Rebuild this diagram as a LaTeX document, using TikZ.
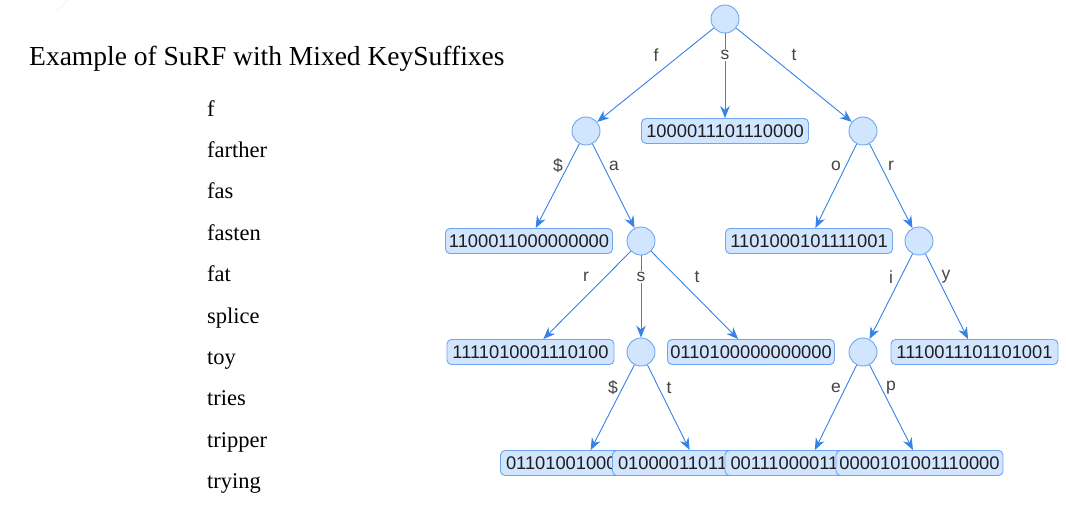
\documentclass[tikz,border=0pt]{standalone}
\usepackage{fontspec}
\setmainfont{Liberation Serif}
\newfontfamily\lsans{Liberation Sans}
\usetikzlibrary{arrows.meta}
\definecolor{nodefill}{HTML}{D2E5FF}
\definecolor{nodeline}{HTML}{6FA6EE}
\definecolor{edgecol}{HTML}{3582E8}
\definecolor{labcol}{HTML}{444444}
\definecolor{txtcol}{HTML}{1E1E1E}
\tikzset{
  trienode/.style={circle, draw=nodeline, fill=nodefill, line width=0.9pt, minimum size=28pt, inner sep=0pt},
  bitbox/.style={rectangle, rounded corners=4.5pt, draw=nodeline, fill=nodefill, line width=0.9pt,
    minimum width=167pt, minimum height=25pt, inner sep=0pt, font=\lsans\fontsize{18.3}{21}\selectfont, text=txtcol},
  cutbox/.style={bitbox, text width=156pt, align=left},
  edge/.style={draw=edgecol, line width=0.9pt, -{Stealth[length=12pt,width=9.5pt]}},
  elabel/.style={font=\lsans\fontsize{17.5}{20}\selectfont, text=labcol, inner sep=1pt},
  elabelw/.style={elabel, fill=white},
  keyword/.style={anchor=base west, inner sep=0pt, font=\fontsize{22.5}{27}\selectfont},
}
\begin{document}
\begin{tikzpicture}[x=1pt,y=-1pt]
\useasboundingbox (0,0) rectangle (1066,504);
\draw[gray!15, line width=0.6pt] (68,0) -- (57,11);
% title and key list
\node[anchor=base west, inner sep=0pt, font=\fontsize{27.5}{32}\selectfont] (title) at (29,65.7) {Example of SuRF with Mixed KeySuffixes};
\node[keyword] (k1) at (207,116) {f};
\node[keyword] (k2) at (207,157.4) {farther};
\node[keyword] (k3) at (207,198.8) {fas};
\node[keyword] (k4) at (207,240.2) {fasten};
\node[keyword] (k5) at (207,281.6) {fat};
\node[keyword] (k6) at (207,323) {splice};
\node[keyword] (k7) at (207,364.4) {toy};
\node[keyword] (k8) at (207,405.8) {tries};
\node[keyword] (k9) at (207,447.2) {tripper};
\node[keyword] (k10) at (207,488.6) {trying};
% trie nodes
\node[trienode] (root) at (725,19) {};
\node[trienode] (nf) at (586,131) {};
\node[bitbox] (bs) at (725,131) {1000011101110000};
\node[trienode] (nt) at (863,131) {};
\node[bitbox] (b1) at (529,241) {1100011000000000};
\node[trienode] (na) at (641,241) {};
\node[bitbox] (b2) at (809,241) {1101000101111001};
\node[trienode] (nr) at (919,241) {};
\node[bitbox] (b3) at (530.5,352) {1111010001110100};
\node[trienode] (nas) at (641,352) {};
\node[bitbox] (b4) at (751,352) {0110100000000000};
\node[trienode] (nri) at (863,352) {};
\node[bitbox] (b5) at (974.5,352) {1110011101101001};
\node[cutbox] (b6) at (584,463) {01101001000};
\node[cutbox] (b7) at (696,463) {01000011011};
\node[cutbox] (b8) at (808.5,463) {00111000011};
\node[bitbox] (b9) at (919.5,463) {0000101001110000};
% edges
\draw[edge] (root) -- (nf);
\draw[edge] (root) -- (bs);
\draw[edge] (root) -- (nt);
\draw[edge] (nf) -- (b1);
\draw[edge] (nf) -- (na);
\draw[edge] (nt) -- (b2);
\draw[edge] (nt) -- (nr);
\draw[edge] (na) -- (b3);
\draw[edge] (na) -- (nas);
\draw[edge] (na) -- (b4);
\draw[edge] (nr) -- (nri);
\draw[edge] (nr) -- (b5);
\draw[edge] (nas) -- (b6);
\draw[edge] (nas) -- (b7);
\draw[edge] (nri) -- (b8);
\draw[edge] (nri) -- (b9);
% edge labels
\node[elabel] (lf) at (656,55) {f};
\node[elabelw] (ls) at (725,55) {s};
\node[elabel] (lt) at (794,55) {t};
\node[elabel] (ld1) at (558,166) {\$};
\node[elabel] (la) at (614,166) {a};
\node[elabel] (lo) at (836,166) {o};
\node[elabel] (lr1) at (891,166) {r};
\node[elabel] (lr2) at (586,277) {r};
\node[elabelw] (ls2) at (641,277) {s};
\node[elabel] (lt2) at (697,277) {t};
\node[elabel] (li) at (891,277) {i};
\node[elabel] (ly) at (946,277) {y};
\node[elabel] (ld2) at (613,388) {\$};
\node[elabel] (lt3) at (669,388) {t};
\node[elabel] (le) at (836,388) {e};
\node[elabel] (lp) at (891,388) {p};
\end{tikzpicture}
\end{document}
